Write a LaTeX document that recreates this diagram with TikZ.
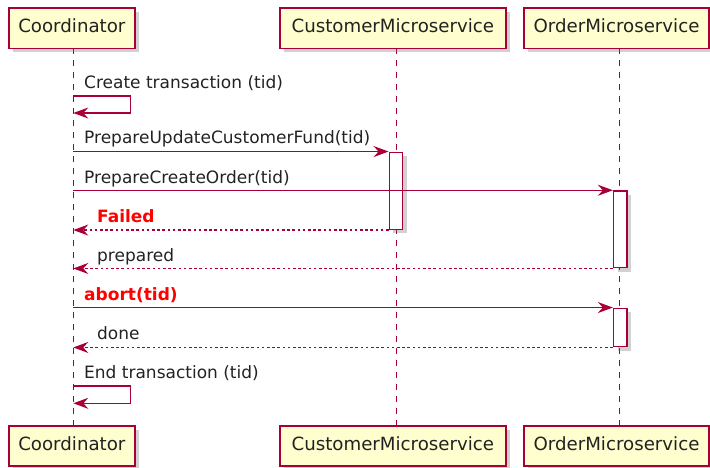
\documentclass[tikz,border=0pt]{standalone}
\usepackage{fontspec}
\setmainfont{DejaVu Sans}
\usetikzlibrary{arrows.meta,shadows}
\definecolor{umlborder}{HTML}{A80036}
\definecolor{umlfill}{HTML}{FEFECE}
\definecolor{umlred}{HTML}{FF0000}
\definecolor{umltext}{HTML}{222222}
\begin{document}
\begin{tikzpicture}[x=1pt,y=-1pt,
  umlshadow/.style={drop shadow={shadow xshift=4pt,shadow yshift=-4pt,fill=black!60,opacity=0.3}},
  participant/.style={draw=umlborder,line width=1.6pt,fill=umlfill,umlshadow,
    minimum height=40.3pt,inner sep=0pt,text height=13pt,text depth=3.5pt,text=umltext,
    font=\fontsize{18.2}{20}\selectfont},
  activation/.style={draw=umlborder,line width=1.5pt,fill=white,umlshadow,
    minimum width=13.4pt,inner sep=0pt},
  lifeline/.style={draw=umlborder,line width=1pt,dash pattern=on 6pt off 6pt},
  umltip/.style={-{Stealth[length=15pt,width=11pt,inset=5pt]}},
  msg/.style={draw=umlborder,line width=1.3pt,umltip},
  ret/.style={draw=umlborder,line width=1.2pt,dash pattern=on 2.6pt off 2.6pt,umltip},
  msglabel/.style={anchor=base west,inner sep=0pt,text=umltext,font=\fontsize{17}{20}\selectfont},
  faillabel/.style={msglabel,text=umlred,font=\fontsize{17}{20}\selectfont\bfseries}]
\useasboundingbox (0,0) rectangle (710,467);

% lifeline ends
\coordinate (lcT) at (73.3,48.3);
\coordinate (lcB) at (73.3,425.7);
\coordinate (lmT) at (396,48.3);
\coordinate (lmB) at (396,425.7);
\coordinate (loT) at (619,48.3);
\coordinate (loB) at (619,425.7);

\draw[lifeline] (lcT) -- (lcB);
\draw[lifeline] (lmT) -- (lmB);
\draw[lifeline] (loT) -- (loB);

% participants, top and bottom
\node[participant,minimum width=126.3pt] (coordT) at (71.85,28.15) {Coordinator};
\node[participant,minimum width=225.7pt] (custT) at (392.85,28.15) {CustomerMicroservice};
\node[participant,minimum width=185pt]   (ordT)  at (616.5,28.15) {OrderMicroservice};
\node[participant,minimum width=126.3pt] (coordB) at (71.85,445.85) {Coordinator};
\node[participant,minimum width=225.7pt] (custB) at (392.85,445.85) {CustomerMicroservice};
\node[participant,minimum width=185pt]   (ordB)  at (616.5,445.85) {OrderMicroservice};

% activation bars
\node[activation,minimum height=77pt]   (act1) at (396,190.8) {};
\node[activation,minimum height=76.7pt] (act2) at (620.3,229.35) {};
\node[activation,minimum height=38.4pt] (act3) at (620.3,327.5) {};

% self message: create
\coordinate (s1a) at (73.3,96);
\coordinate (s1b) at (73.3,113);
\draw[msg] (s1a) -- ++(57,0) |- (s1b);
\node[msglabel] (l1) at (84,88.3) {Create transaction (tid)};

% prepare customer fund
\draw[msg] (act1.north west -| lcT) -- (act1.north west);
\node[msglabel] (l2) at (84,143.5) {PrepareUpdateCustomerFund(tid)};

% prepare order
\draw[msg] (act2.north west -| lcT) -- (act2.north west);
\node[msglabel] (l3) at (84,183.3) {PrepareCreateOrder(tid)};

% failed reply
\draw[ret] (act1.south west) -- (act1.south west -| lcT);
\node[faillabel] (l4) at (97,222.7) {Failed};

% prepared reply
\draw[ret] (act2.south west) -- (act2.south west -| lcT);
\node[msglabel] (l5) at (97,261.7) {prepared};

% abort
\draw[msg] (act3.north west -| lcT) -- (act3.north west);
\node[faillabel] (l6) at (84,300.7) {abort(tid)};

% done reply
\draw[ret] (act3.south west) -- (act3.south west -| lcT);
\node[msglabel] (l7) at (97,339.5) {done};

% self message: end
\coordinate (s2a) at (73.3,386);
\coordinate (s2b) at (73.3,403.3);
\draw[msg] (s2a) -- ++(57,0) |- (s2b);
\node[msglabel] (l8) at (84,378.5) {End transaction (tid)};
\end{tikzpicture}
\end{document}
